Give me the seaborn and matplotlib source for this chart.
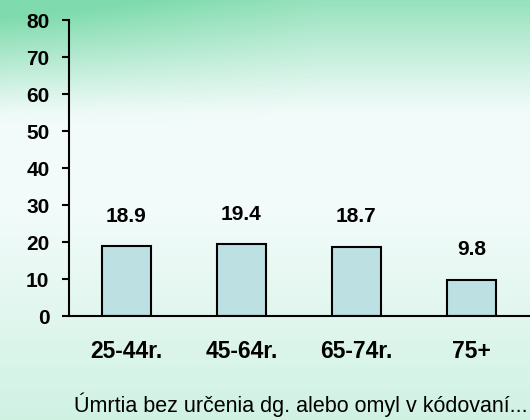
import numpy as np
import matplotlib
matplotlib.use("Agg")
import matplotlib.pyplot as plt
import seaborn as sns
import pandas as pd

categories = ["25-44r.", "45-64r.", "65-74r.", "75+"]
values = [18.9, 19.4, 18.7, 9.8]
y_ticks = [0, 10, 20, 30, 40, 50, 60, 70, 80]
caption = "Úmrtia bez určenia dg. alebo omyl v kódovaní..."

df = pd.DataFrame({"vek": categories, "hodnota": values})

sns.set_style("white")
plt.rcParams["font.family"] = ["Liberation Sans", "DejaVu Sans"]
plt.rcParams["text.color"] = "black"
plt.rcParams["xtick.color"] = "black"
plt.rcParams["ytick.color"] = "black"

fig = plt.figure(figsize=(5.3, 4.2), dpi=100)

# soft green background
bg = fig.add_axes([0, 0, 1, 1], zorder=-10)
yy, xx = np.mgrid[0:1:420j, 0:1:530j]
top = np.clip(1 - yy / 0.27, 0, 1) ** 1.1
left = np.clip(1 - xx / 0.6, 0, 1) * np.clip(1 - yy / 0.3, 0, 1)
bottom = np.clip((yy - 0.5) / 0.5, 0, 1) * 0.3
g = np.clip(top * 0.8 + left * 0.4 + bottom, 0, 1)
white = np.array([0.95, 0.985, 0.98])
green = np.array([0.50, 0.86, 0.68])
img = white * (1 - g[..., None]) + green * g[..., None]
bg.imshow(img, aspect="auto", extent=[0, 1, 0, 1])
bg.axis("off")

ax = fig.add_axes([0.130, 0.2476, 0.868, 0.7047])
ax.set_facecolor("none")
sns.barplot(data=df, x="vek", y="hodnota", color="#bde1e3", edgecolor="black",
            linewidth=1.5, width=0.42, saturation=1, ax=ax)

for i, v in enumerate(values):
    ax.annotate(f"{v}", (i, v), xytext=(0, 21.5), textcoords="offset points",
                ha="center", va="center", fontsize=15, fontweight="bold")

ax.set_xlim(-0.5, 3.5)
ax.set_ylim(0, 80)
ax.set_yticks(y_ticks)
ax.set_yticklabels([str(t) for t in y_ticks], fontsize=15, fontweight="bold")
ax.set_xticks(range(len(categories)))
ax.set_xticklabels(categories, fontsize=16.5, fontweight="bold")
ax.set_xticks([-0.5, 0.5, 1.5, 2.5, 3.5], minor=True)
ax.tick_params(axis="x", which="major", length=0, pad=17)
ax.tick_params(axis="x", which="minor", length=5, width=1.5, direction="out")
ax.tick_params(axis="y", length=5, width=1.5, direction="out", pad=9, left=True)
ax.set_xlabel("")
ax.set_ylabel("")
for s in ["top", "right"]:
    ax.spines[s].set_visible(False)
for s in ["left", "bottom"]:
    ax.spines[s].set_linewidth(1.5)
    ax.spines[s].set_color("black")

fig.text(0.567, 0.036, caption, ha="center", va="center", fontsize=15.5)

fig.savefig("out.png", dpi=100)
